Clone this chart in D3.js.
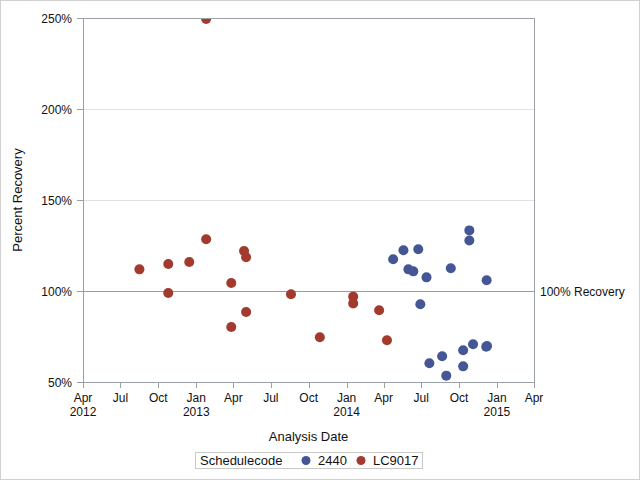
<!DOCTYPE html>
<html><head><meta charset="utf-8">
<script src="https://cdn.jsdelivr.net/npm/d3@7"></script>
<style>
html,body{margin:0;padding:0;background:#fff;}
svg{display:block;font-family:"Liberation Sans",Arial,sans-serif;}
</style></head>
<body><svg id="c" width="640" height="480"></svg>
<script>
const seriesNames = ["2440", "LC9017"];
const seriesColors = ["#445694", "#A23A2E"];
const datesLC9017 = ["2012-08-16","2012-10-25","2012-10-25","2012-12-15","2013-01-25","2013-01-25","2013-03-27","2013-03-27","2013-04-27","2013-05-02","2013-05-02","2013-08-19","2013-10-28","2014-01-17","2014-01-17","2014-03-21","2014-04-09"];
const valuesLC9017 = [111.9,114.8,98.9,115.9,128.4,249.5,104.4,80.2,122,118.5,88.5,98.2,74.6,96.9,93.2,89.4,72.9];
const dates2440 = ["2014-04-24","2014-05-19","2014-05-31","2014-06-12","2014-06-24","2014-06-29","2014-07-14","2014-07-21","2014-08-21","2014-08-31","2014-09-11","2014-10-11","2014-10-11","2014-10-26","2014-10-26","2014-11-04","2014-12-06","2014-12-08","2014-12-07"];
const values2440 = [117.4,122.4,111.9,110.8,122.9,92.7,107.5,60.3,64.1,53.5,112.5,67.4,58.6,133.3,127.7,70.7,69.4,69.8,105.9];
const yTicks = [50,100,150,200,250];
const refValue = 100;
const refLabel = "100% Recovery";
const xTitle = "Analysis Date";
const yTitle = "Percent Recovery";
const legendTitle = "Schedulecode";

const parse = d3.timeParse("%Y-%m-%d");
const svg = d3.select("#c");
const L = 83, R = 534, T = 18, B = 382;

svg.append("rect").attr("x",0.5).attr("y",0.5).attr("width",639).attr("height",479)
  .attr("fill","#fff").attr("stroke","#d0d0d0");

const x = d3.scaleTime().domain([new Date(2012,3,1), new Date(2015,3,1)]).range([L,R]);
const y = d3.scaleLinear().domain([50,250]).range([B,T]);

// grid
svg.append("g").selectAll("line").data(yTicks.filter(v=>v!==50 && v!==250 && v!==refValue)).join("line")
  .attr("x1",L).attr("x2",R).attr("y1",d=>Math.round(y(d))+0.5).attr("y2",d=>Math.round(y(d))+0.5)
  .attr("stroke","#e1e1e1");

// reference line
svg.append("line").attr("x1",L).attr("x2",R).attr("y1",Math.round(y(refValue))+0.5).attr("y2",Math.round(y(refValue))+0.5)
  .attr("stroke","#9a9a9a");
svg.append("text").attr("x",540).attr("y",y(refValue)+4.5).attr("font-size",12).attr("fill","#111").text(refLabel);

// frame
svg.append("rect").attr("x",L+0.5).attr("y",T+0.5).attr("width",R-L-1+1).attr("height",B-T)
  .attr("fill","none").attr("stroke","#9aa0a6");

// x axis
const xt = d3.timeMonth.every(3).range(new Date(2012,3,1), new Date(2015,3,2));
const xg = svg.append("g");
xg.selectAll("line").data(xt).join("line")
  .attr("x1",d=>Math.round(x(d))+0.5).attr("x2",d=>Math.round(x(d))+0.5)
  .attr("y1",B).attr("y2",B+6).attr("stroke","#9aa0a6");
const fmtM = d3.timeFormat("%b");
xg.selectAll("text.m").data(xt).join("text").attr("class","m")
  .attr("x",d=>x(d)).attr("y",B+20).attr("text-anchor","middle").attr("font-size",12).attr("fill","#111")
  .text(d=>fmtM(d));
xg.selectAll("text.yr").data(xt.filter((d,i)=>i===0 || d.getMonth()===0)).join("text").attr("class","yr")
  .attr("x",d=>x(d)).attr("y",B+34).attr("text-anchor","middle").attr("font-size",12).attr("fill","#111")
  .text(d=>d.getFullYear());
svg.append("text").attr("x",(L+R)/2).attr("y",441).attr("text-anchor","middle").attr("font-size",13).attr("fill","#111").text(xTitle);

// y axis
const yg = svg.append("g");
yg.selectAll("line").data(yTicks).join("line")
  .attr("x1",L-6).attr("x2",L).attr("y1",d=>Math.round(y(d))+0.5).attr("y2",d=>Math.round(y(d))+0.5)
  .attr("stroke","#9aa0a6");
yg.selectAll("text").data(yTicks).join("text")
  .attr("x",L-11).attr("y",d=>y(d)+4.5).attr("text-anchor","end").attr("font-size",12).attr("fill","#111")
  .text(d=>d+"%");
svg.append("text").attr("transform",`translate(22,${(T+B)/2}) rotate(-90)`).attr("text-anchor","middle")
  .attr("font-size",13).attr("fill","#111").text(yTitle);

// points
svg.append("clipPath").attr("id","clip").append("rect").attr("x",L).attr("y",T+1).attr("width",R-L).attr("height",B-T);
const pts = svg.append("g").attr("clip-path","url(#clip)");
const series = [
  {name:seriesNames[1], color:seriesColors[1], dates:datesLC9017, values:valuesLC9017},
  {name:seriesNames[0], color:seriesColors[0], dates:dates2440, values:values2440}
];
series.forEach(s=>{
  pts.append("g").selectAll("circle").data(s.dates.map((d,i)=>({d:parse(d), v:s.values[i]}))).join("circle")
    .attr("cx",d=>x(d.d)).attr("cy",d=>y(d.v)).attr("r",5).attr("fill",s.color);
});

// legend
const lg = svg.append("g");
lg.append("rect").attr("x",195.5).attr("y",452.5).attr("width",227).attr("height",16).attr("fill","#fff").attr("stroke","#c8c8c8");
lg.append("text").attr("x",200).attr("y",465).attr("font-size",13).attr("fill","#111").text(legendTitle);
const legItems = [{n:seriesNames[0],c:seriesColors[0],x:306},{n:seriesNames[1],c:seriesColors[1],x:361}];
legItems.forEach(it=>{
  lg.append("circle").attr("cx",it.x).attr("cy",460.5).attr("r",4.5).attr("fill",it.c);
  lg.append("text").attr("x",it.x+12).attr("y",465).attr("font-size",13).attr("fill","#111").text(it.n);
});
</script></body></html>
